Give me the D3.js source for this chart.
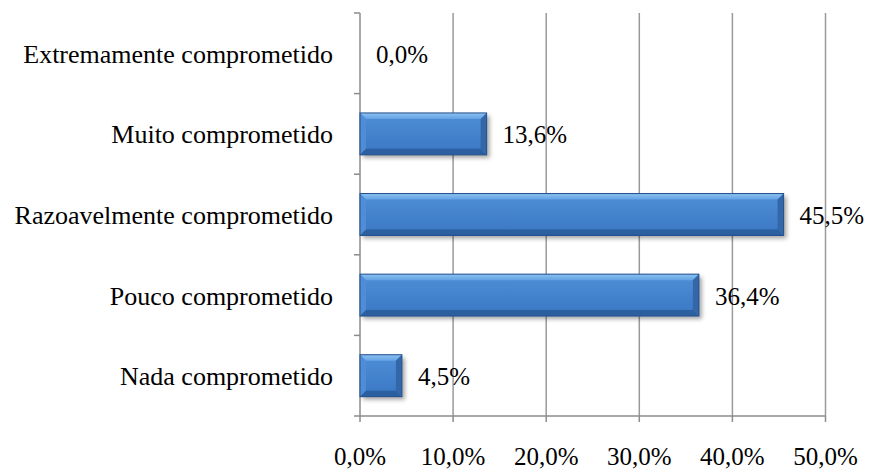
<!DOCTYPE html>
<html>
<head>
<meta charset="utf-8">
<script src="https://cdn.jsdelivr.net/npm/d3@7"></script>
</head>
<body style="margin:0">
<svg id="chart" width="869" height="469"></svg>
<script>
const categories = ["Extremamente comprometido", "Muito comprometido", "Razoavelmente comprometido", "Pouco comprometido", "Nada comprometido"];
const values = [0.0, 13.6, 45.5, 36.4, 4.5];
const valueLabels = ["0,0%", "13,6%", "45,5%", "36,4%", "4,5%"];
const xTicks = [0, 10, 20, 30, 40, 50];
const xTickLabels = ["0,0%", "10,0%", "20,0%", "30,0%", "40,0%", "50,0%"];

const svg = d3.select("#chart");
const pLeft = 360, pRight = 825.5, pTop = 13, pBottom = 416;

const x = d3.scaleLinear().domain([0, 50]).range([pLeft, pRight]);
const y = d3.scaleBand().domain(categories).range([pTop, pBottom]).paddingInner(0.48).paddingOuter(0.24);

function serif(sel) {
  return sel.style("font-family", '"Liberation Serif"').attr("fill", "#000");
}

const defs = svg.append("defs");
const f = defs.append("filter").attr("id", "shadow").attr("x", "-10%").attr("y", "-30%").attr("width", "130%").attr("height", "180%");
f.append("feDropShadow").attr("dx", 3).attr("dy", 3).attr("stdDeviation", 2).attr("flood-color", "#000").attr("flood-opacity", 0.35);

const gFace = defs.append("linearGradient").attr("id", "face").attr("x1", 0).attr("y1", 0).attr("x2", 0).attr("y2", 1);
gFace.append("stop").attr("offset", "0%").attr("stop-color", "#4f8fd8");
gFace.append("stop").attr("offset", "100%").attr("stop-color", "#3a76c2");

const gTop = defs.append("linearGradient").attr("id", "topb").attr("x1", 0).attr("y1", 0).attr("x2", 0).attr("y2", 1);
gTop.append("stop").attr("offset", "0%").attr("stop-color", "#8cc2f2");
gTop.append("stop").attr("offset", "100%").attr("stop-color", "#64a2e4");

svg.append("g").selectAll("line").data(xTicks.slice(1)).join("line")
  .attr("x1", d => x(d)).attr("x2", d => x(d))
  .attr("y1", pTop).attr("y2", pBottom)
  .attr("stroke", "#9a9a9a").attr("stroke-width", 1.5);

const yTicksPos = d3.range(categories.length + 1).map(i => pTop + i * y.step());
svg.append("line").attr("x1", pLeft).attr("x2", pLeft).attr("y1", pTop).attr("y2", pBottom)
  .attr("stroke", "#8c8c8c").attr("stroke-width", 1.5);
svg.append("g").selectAll("line").data(yTicksPos).join("line")
  .attr("x1", pLeft - 6).attr("x2", pLeft).attr("y1", d => d).attr("y2", d => d)
  .attr("stroke", "#8c8c8c").attr("stroke-width", 1.5);

svg.append("line").attr("x1", pLeft).attr("x2", pRight).attr("y1", pBottom).attr("y2", pBottom)
  .attr("stroke", "#8c8c8c").attr("stroke-width", 1.5);
svg.append("g").selectAll("line").data(xTicks).join("line")
  .attr("x1", d => x(d)).attr("x2", d => x(d)).attr("y1", pBottom).attr("y2", pBottom + 6)
  .attr("stroke", "#8c8c8c").attr("stroke-width", 1.5);

serif(svg.append("g").selectAll("text").data(xTicks).join("text"))
  .attr("x", d => x(d)).attr("y", 465)
  .attr("text-anchor", "middle").attr("font-size", 25)
  .text((d, i) => xTickLabels[i]);

serif(svg.append("g").selectAll("text").data(categories).join("text"))
  .attr("x", 333).attr("y", d => y(d) + y.bandwidth() / 2 + 9.5)
  .attr("text-anchor", "end").attr("font-size", 26)
  .text(d => d);

const data = categories.map((c, i) => ({ c, v: values[i], label: valueLabels[i] }));
const bars = svg.append("g").selectAll("g").data(data.filter(d => d.v > 0)).join("g");
const bv = 6;
bars.each(function(d) {
  const g = d3.select(this);
  const x0 = x(0), x1 = x(d.v), y0 = y(d.c), y1 = y(d.c) + y.bandwidth();
  const w = x1 - x0, h = y1 - y0;
  g.append("rect").attr("x", x0).attr("y", y0).attr("width", w).attr("height", h)
    .attr("fill", "url(#face)").attr("filter", "url(#shadow)");
  g.append("path").attr("d", `M${x0},${y0}L${x1},${y0}L${x1 - bv},${y0 + bv}L${x0 + bv},${y0 + bv}Z`).attr("fill", "url(#topb)");
  g.append("path").attr("d", `M${x0},${y0}L${x0 + bv},${y0 + bv}L${x0 + bv},${y1 - bv}L${x0},${y1}Z`).attr("fill", "#4f8ed6");
  g.append("path").attr("d", `M${x0},${y1}L${x0 + bv},${y1 - bv}L${x1 - bv},${y1 - bv}L${x1},${y1}Z`).attr("fill", "#2c5f9f");
  g.append("path").attr("d", `M${x1},${y0}L${x1 - bv},${y0 + bv}L${x1 - bv},${y1 - bv}L${x1},${y1}Z`).attr("fill", "#3467a8");
  g.append("rect").attr("x", x0).attr("y", y0).attr("width", w).attr("height", h)
    .attr("fill", "none").attr("stroke", "#24518d").attr("stroke-width", 1);
});

serif(svg.append("g").selectAll("text").data(data).join("text"))
  .attr("x", d => x(d.v) + 16).attr("y", d => y(d.c) + y.bandwidth() / 2 + 9.5)
  .attr("font-size", 25)
  .text(d => d.label);

// force text layout so the serif face is resolved before capture
svg.selectAll("text").each(function() { this.getComputedTextLength(); });
</script>
</body>
</html>
